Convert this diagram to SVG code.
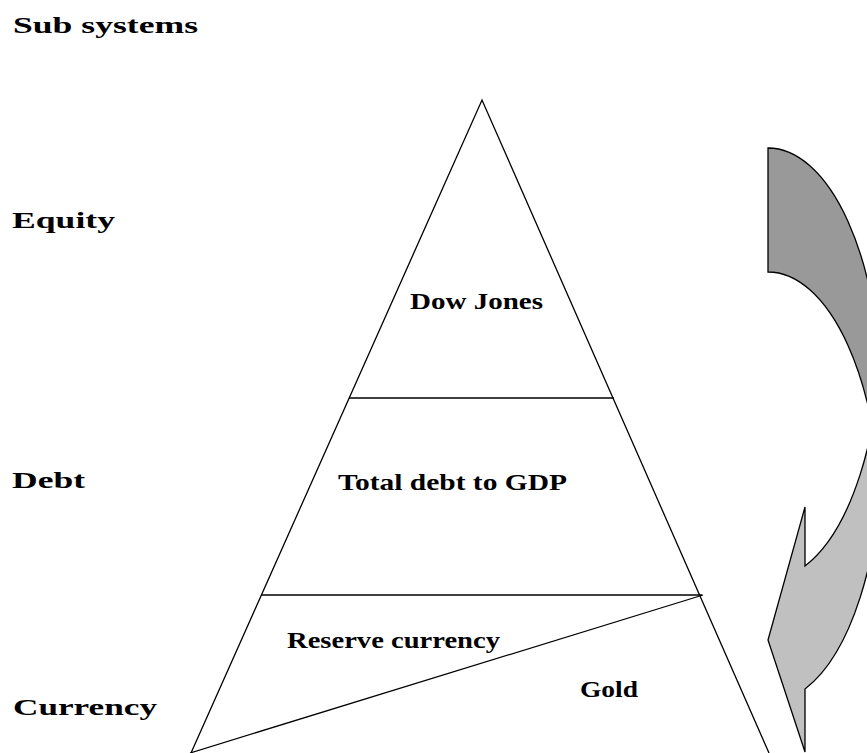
<svg xmlns="http://www.w3.org/2000/svg" width="867" height="753" viewBox="0 0 867 753">
<style>
  .lbl { font-family: "Liberation Serif", "Times New Roman", serif; font-weight: bold; font-size: 23px; fill: #000; }
  .ln { stroke: #000; stroke-width: 1.3; fill: none; }
  .arr { stroke: #000; stroke-width: 1.3; stroke-linejoin: miter; }
</style>
<rect x="0" y="0" width="867" height="753" fill="#fff"/>

<g id="side-labels">
  <text class="lbl" x="13" y="33" textLength="185" lengthAdjust="spacingAndGlyphs">Sub systems</text>
  <text class="lbl" x="12" y="228" textLength="103" lengthAdjust="spacingAndGlyphs">Equity</text>
  <text class="lbl" x="12" y="488" textLength="73" lengthAdjust="spacingAndGlyphs">Debt</text>
  <text class="lbl" x="13" y="715" textLength="144" lengthAdjust="spacingAndGlyphs">Currency</text>
</g>

<g id="pyramid">
  <path class="ln" d="M191,753 L482,100 L769,753"/>
</g>
<g id="tier-equity">
  <text class="lbl" x="410" y="309" textLength="133" lengthAdjust="spacingAndGlyphs">Dow Jones</text>
</g>
<g id="tier-debt">
  <line class="ln" x1="349" y1="398" x2="614" y2="398"/>
  <text class="lbl" x="338" y="490" textLength="229" lengthAdjust="spacingAndGlyphs">Total debt to GDP</text>
</g>
<g id="tier-currency">
  <line class="ln" x1="262" y1="595" x2="702" y2="595"/>
  <line class="ln" x1="703" y1="595" x2="190" y2="753"/>
  <text class="lbl" x="287" y="648" textLength="213" lengthAdjust="spacingAndGlyphs">Reserve currency</text>
  <text class="lbl" x="580" y="697" textLength="58" lengthAdjust="spacingAndGlyphs">Gold</text>
</g>

<g id="curved-arrow">
  <path class="arr" fill="#999999" d="M768,148 A113,250 0 0 1 881,398 L881,522 A113,250 0 0 0 768,272 Z"/>
  <path class="arr" fill="#c0c0c0" d="M805,689 A113,250 0 0 0 881,453 L881,330 A113,250 0 0 1 805,566 L805,507 L768,640 L805,752 Z"/>
</g>
</svg>
